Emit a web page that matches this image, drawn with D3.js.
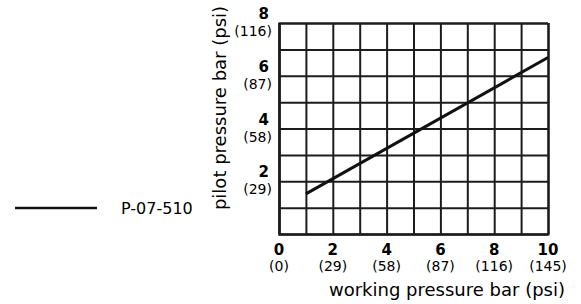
<!DOCTYPE html>
<html>
<head>
<meta charset="utf-8">
<script src="https://cdn.jsdelivr.net/npm/d3@7"></script>
<style>
  body { margin: 0; background: #fff; }
  svg { display: block; }
</style>
</head>
<body>
<div id="chart"></div>
<script>
// values
const xDomain = [0, 10];
const yDomain = [0, 8];
const xTickValues = [0, 2, 4, 6, 8, 10];
const xTickPsi = ["(0)", "(29)", "(58)", "(87)", "(116)", "(145)"];
const yTickValues = [2, 4, 6, 8];
const yTickPsi = ["(29)", "(58)", "(87)", "(116)"];
const seriesName = "P-07-510";
const seriesX = [1, 10];
const seriesY = [1.52, 6.69];

const width = 581, height = 304;
const margin = {left: 279, right: 35, top: 23, bottom: 70};

const svg = d3.select("#chart").append("svg")
    .attr("width", width)
    .attr("height", height)
    .style("font-family", "'DejaVu Sans', sans-serif");

const x = d3.scaleLinear().domain(xDomain).range([margin.left, width - margin.right + 2]);
const y = d3.scaleLinear().domain(yDomain).range([height - margin.bottom, margin.top]);

const ink = "#1c1c1c";

// grid through the axes, one line per unit
const gx = svg.append("g")
    .attr("transform", `translate(0,${y(0)})`)
    .call(d3.axisBottom(x).ticks(10).tickSize(-(y(0) - y(8))).tickFormat(""));
const gy = svg.append("g")
    .attr("transform", `translate(${x(0)},0)`)
    .call(d3.axisLeft(y).ticks(8).tickSize(-(x(10) - x(0))).tickFormat(""));
[gx, gy].forEach(g => {
    g.select(".domain").attr("stroke", ink).attr("stroke-width", 2.2);
    g.selectAll(".tick line").attr("stroke", ink).attr("stroke-width", 2);
});

// x tick labels
const xl = svg.append("g").attr("text-anchor", "middle").attr("fill", "#000");
xTickValues.forEach((v, i) => {
    xl.append("text").attr("x", x(v)).attr("y", y(0) + 21)
        .attr("font-size", 15).attr("font-weight", "bold").text(v);
    xl.append("text").attr("x", x(v)).attr("y", y(0) + 37)
        .attr("font-size", 14).text(xTickPsi[i]);
});

// y tick labels
const yl = svg.append("g").attr("text-anchor", "end").attr("fill", "#000");
yTickValues.forEach((v, i) => {
    yl.append("text").attr("x", x(0) - 10).attr("y", y(v) - 4)
        .attr("font-size", 15).attr("font-weight", "bold").text(v);
    yl.append("text").attr("x", x(0) - 7).attr("y", y(v) + 13)
        .attr("font-size", 14).text(yTickPsi[i]);
});

// axis titles
svg.append("text")
    .attr("x", 565).attr("y", 296)
    .attr("text-anchor", "end")
    .attr("font-size", 18)
    .text("working pressure bar (psi)");

svg.append("text")
    .attr("transform", `translate(226,108) rotate(-90)`)
    .attr("text-anchor", "middle")
    .attr("font-size", 18)
    .text("pilot pressure bar (psi)");

// series
const line = d3.line().x(d => x(d[0])).y(d => y(d[1]));
svg.append("path")
    .datum(seriesX.map((v, i) => [v, seriesY[i]]))
    .attr("fill", "none")
    .attr("stroke", "#111")
    .attr("stroke-width", 3)
    .attr("d", line);

// legend
const legend = svg.append("g");
legend.append("line")
    .attr("x1", 15).attr("x2", 97)
    .attr("y1", 208).attr("y2", 208)
    .attr("stroke", "#111").attr("stroke-width", 2.5);
legend.append("text")
    .attr("x", 121).attr("y", 214)
    .attr("font-size", 16)
    .text(seriesName);
</script>
</body>
</html>
